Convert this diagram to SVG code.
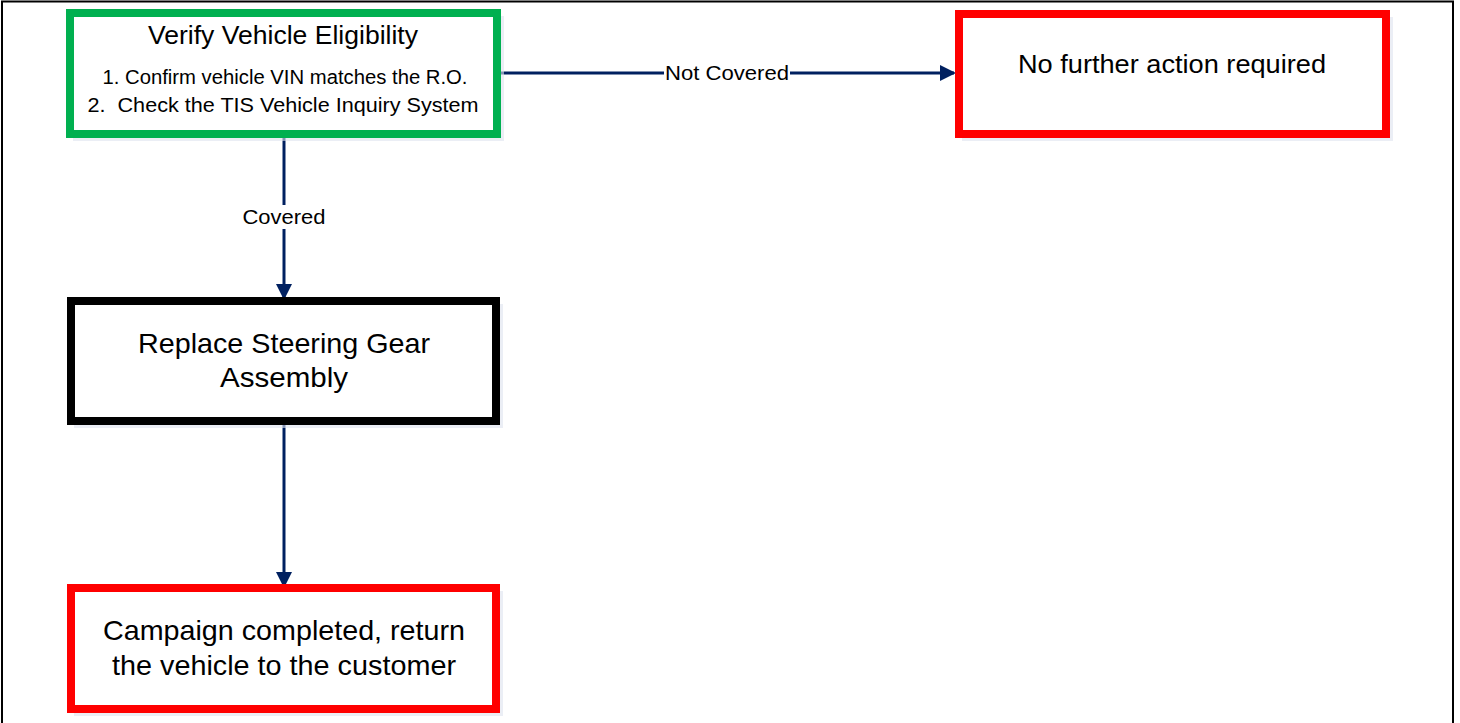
<svg xmlns="http://www.w3.org/2000/svg" width="1460" height="723" viewBox="0 0 1460 723">
<style>
.box{fill:#fff;stroke-width:8}
.shadow{fill:#dde3ee;opacity:0.6}
.cal{font-family:"Liberation Sans Narrow","Liberation Sans",sans-serif;fill:#000;text-anchor:middle}
.ari{font-family:"Liberation Sans",Arial,sans-serif;fill:#000;text-anchor:middle;font-size:28px}
.conn{stroke:#002060;stroke-width:3;fill:none}
.lbl{font-family:"Liberation Sans Narrow","Liberation Sans",sans-serif;font-size:20px;fill:#000;text-anchor:middle}
</style>
<defs>
<marker id="arr" markerWidth="16" markerHeight="16" refX="14" refY="8" orient="auto" markerUnits="userSpaceOnUse">
<path d="M0,0 L16,8 L0,16 z" fill="#002060"/>
</marker>
</defs>
<rect x="2" y="1.5" width="1451" height="730" fill="#fff" stroke="#000" stroke-width="2"/>
<g id="connectors">
<line class="conn" x1="497" y1="73" x2="954" y2="73" marker-end="url(#arr)"/>
<rect x="664" y="62" width="126" height="22" fill="#fff"/>
<text class="lbl" x="727" y="80" textLength="124" lengthAdjust="spacingAndGlyphs">Not Covered</text>
<line class="conn" x1="284" y1="134" x2="284" y2="298" marker-end="url(#arr)"/>
<rect x="240" y="205" width="88" height="24" fill="#fff"/>
<text class="lbl" x="284" y="224" textLength="83" lengthAdjust="spacingAndGlyphs">Covered</text>
<line class="conn" x1="284" y1="421" x2="284" y2="586" marker-end="url(#arr)"/>
</g>
<g id="verify">
<rect class="shadow" x="73" y="16" width="431" height="125"/>
<rect class="box" x="70" y="13" width="427" height="121" stroke="#00B050"/>
<text class="cal" x="283" y="44" font-size="25" textLength="270" lengthAdjust="spacingAndGlyphs">Verify Vehicle Eligibility</text>
<text class="cal" x="285" y="84" font-size="20" textLength="365" lengthAdjust="spacingAndGlyphs">1. Confirm vehicle VIN matches the R.O.</text>
<text class="cal" x="283" y="112" font-size="20" textLength="391" lengthAdjust="spacingAndGlyphs">2.&#160; Check the TIS Vehicle Inquiry System</text>
</g>
<g id="nofurther">
<rect class="shadow" x="962" y="17" width="431" height="124"/>
<rect class="box" x="959" y="14" width="427" height="120" stroke="#FF0000"/>
<text class="cal" x="1172" y="73" font-size="25" textLength="308" lengthAdjust="spacingAndGlyphs">No further action required</text>
</g>
<g id="replace">
<rect class="shadow" x="74" y="304" width="429" height="124"/>
<rect class="box" x="71" y="301" width="425" height="120" stroke="#000"/>
<text class="ari" x="284" y="353" textLength="292" lengthAdjust="spacingAndGlyphs">Replace Steering Gear</text>
<text class="ari" x="284" y="387" textLength="128" lengthAdjust="spacingAndGlyphs">Assembly</text>
</g>
<g id="completed">
<rect class="shadow" x="74" y="591" width="429" height="125"/>
<rect class="box" x="71" y="588" width="425" height="121" stroke="#FF0000"/>
<text class="ari" x="284" y="640" textLength="362" lengthAdjust="spacingAndGlyphs">Campaign completed, return</text>
<text class="ari" x="284" y="675" textLength="344" lengthAdjust="spacingAndGlyphs">the vehicle to the customer</text>
</g>
</svg>
